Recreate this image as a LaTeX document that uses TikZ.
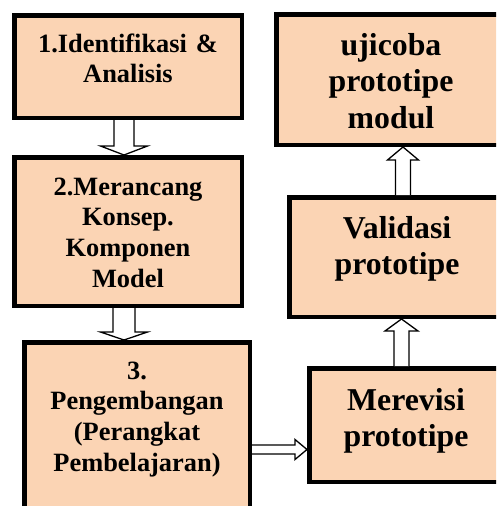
\documentclass[tikz,border=0pt]{standalone}
\usepackage{fontspec}
\setmainfont{Liberation Serif}
\usetikzlibrary{calc}
\definecolor{peach}{HTML}{FBD4B4}
\tikzset{
  box/.style={draw=black, line width=4.5pt, fill=peach, rectangle, inner sep=0pt},
  ltxt/.style={anchor=base, text width=220pt, align=center, inner sep=0pt,
    font=\fontsize{26.4}{30.7}\selectfont\bfseries},
  rtxt/.style={anchor=base, text width=200pt, align=center, inner sep=0pt,
    font=\fontsize{31.8}{36.5}\selectfont\bfseries},
  barrow/.style={draw=black, line width=1.3pt, fill=white, line join=miter}
}
\newcommand\vbarrow[6]{\draw[barrow] let \p1=(#1),\p2=(#2) in
  ({#3pt-#4pt},{\y1}) -- ({#3pt-#4pt},{\y2+(#6pt)}) -- ({#3pt-#5pt},{\y2+(#6pt)}) -- ({#3pt},{\y2})
  -- ({#3pt+#5pt},{\y2+(#6pt)}) -- ({#3pt+#4pt},{\y2+(#6pt)}) -- ({#3pt+#4pt},{\y1});}
\newcommand\hbarrow[6]{\draw[barrow] let \p1=(#1),\p2=(#2) in
  ({\x1},{#3pt+#4pt}) -- ({\x2-#6pt},{#3pt+#4pt}) -- ({\x2-#6pt},{#3pt+#5pt}) -- ({\x2},{#3pt})
  -- ({\x2-#6pt},{#3pt-#5pt}) -- ({\x2-#6pt},{#3pt-#4pt}) -- ({\x1},{#3pt-#4pt});}
\begin{document}
\begin{tikzpicture}[x=1pt,y=-1pt]
\useasboundingbox (0,0) rectangle (496,506);
\clip (0,0) rectangle (496,506);
% boxes
\node[box, minimum width=227.5pt, minimum height=102.5pt] (b1) at (128,66.5) {};
\node[box, minimum width=227.5pt, minimum height=148.5pt] (b2) at (128,231.5) {};
\node[box, minimum width=225.5pt, minimum height=195.5pt] (b3) at (137,440) {};
\node[box, minimum width=231.5pt, minimum height=130.5pt] (bu) at (392,79.5) {};
\node[box, minimum width=218.5pt, minimum height=119.5pt] (bv) at (398.5,257) {};
\node[box, minimum width=198.5pt, minimum height=113.5pt] (bm) at (408.5,425) {};
% texts
\node[ltxt] (t1) at (128,52) {1.Identifikasi \&\\Analisis};
\node[ltxt] (t2) at (128,195) {2.Merancang\\Konsep.\\Komponen\\Model};
\node[ltxt] (t3) at (137,379) {3.\\Pengembangan\\(Perangkat\\Pembelajaran)};
\node[rtxt] (tu) at (391,55) {ujicoba\\prototipe\\modul};
\node[rtxt] (tv) at (397,238) {Validasi\\prototipe};
\node[rtxt] (tm) at (406,410) {Merevisi\\prototipe};
% arrows
\vbarrow{b1.south}{b2.north}{124}{10}{23.5}{9}
\vbarrow{b2.south}{b3.north}{124}{11}{23.5}{8}
\hbarrow{b3.east}{bm.west}{-449.5}{4.5}{10}{12}
\vbarrow{bm.north}{bv.south}{401.5}{7.5}{16.5}{-12}
\vbarrow{bv.north}{bu.south}{403}{7.5}{15.5}{-13}
\end{tikzpicture}
\end{document}
